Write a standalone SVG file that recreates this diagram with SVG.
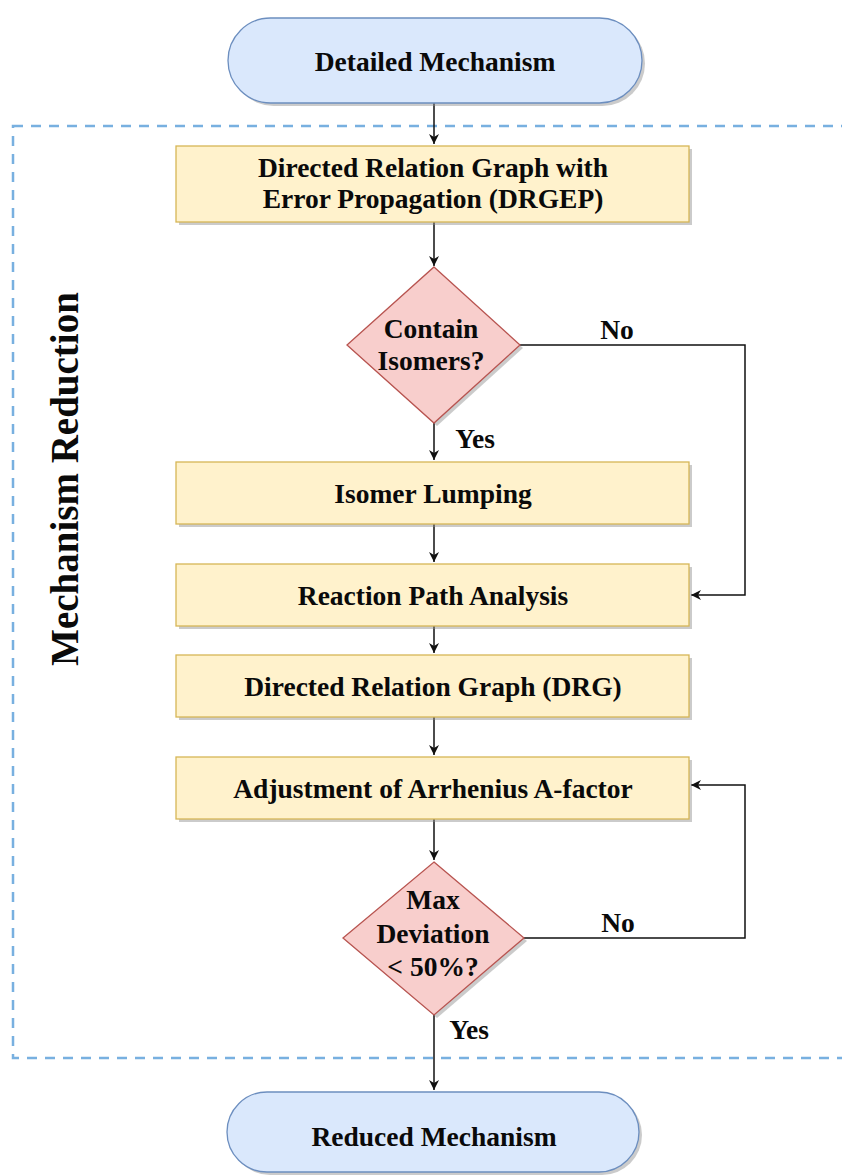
<svg xmlns="http://www.w3.org/2000/svg" width="842" height="1175" viewBox="0 0 842 1175">
  <defs>
    <style>
      .term { fill: #dae8fc; stroke: #6c8ebf; stroke-width: 1.3; }
      .proc { fill: #fff2cc; stroke: #d6b656; stroke-width: 1.3; }
      .dec  { fill: #f8cecc; stroke: #b85450; stroke-width: 1.3; }
      .shadow { fill: #8c8c8c; opacity: 0.45; }
      .lbl { font-family: "Liberation Serif", "Times New Roman", serif; font-weight: bold; font-size: 27.5px; fill: #0a0a0a; text-anchor: middle; }
      .side { font-size: 39px; }
      .edge { fill: none; stroke: #111; stroke-width: 1.5; }
      .group { fill: none; stroke: #78b0e0; stroke-width: 2.5; stroke-dasharray: 10 8; }
    </style>
    <marker id="arrow" viewBox="0 0 12 12" refX="11" refY="6" markerWidth="12" markerHeight="12" markerUnits="userSpaceOnUse" orient="auto">
      <path d="M1,1 L11,6 L1,11 L4,6 Z" fill="#111"/>
    </marker>
  </defs>
  <rect width="842" height="1175" fill="#ffffff"/>

  <!-- dashed container with its rotated caption -->
  <g id="mechanism-reduction">
    <rect class="group" x="13" y="126" width="860" height="932"/>
    <text class="lbl side" transform="translate(78,479) rotate(-90)">Mechanism Reduction</text>
  </g>

  <!-- connectors and branch labels -->
  <g id="connectors">
    <path class="edge" d="M434,103 V144" marker-end="url(#arrow)"/>
    <path class="edge" d="M434,222 V266" marker-end="url(#arrow)"/>
    <path class="edge" d="M434,423 V460" marker-end="url(#arrow)"/>
    <path class="edge" d="M520,345 H745 V595 H691" marker-end="url(#arrow)"/>
    <path class="edge" d="M434,524 V562" marker-end="url(#arrow)"/>
    <path class="edge" d="M434,626 V653" marker-end="url(#arrow)"/>
    <path class="edge" d="M434,717 V755" marker-end="url(#arrow)"/>
    <path class="edge" d="M434,819 V860" marker-end="url(#arrow)"/>
    <path class="edge" d="M524,938 H745 V785 H691" marker-end="url(#arrow)"/>
    <path class="edge" d="M434,1015 V1090" marker-end="url(#arrow)"/>
    <text class="lbl" x="617" y="339">No</text>
    <text class="lbl" x="475" y="448">Yes</text>
    <text class="lbl" x="618" y="932">No</text>
    <text class="lbl" x="469" y="1039">Yes</text>
  </g>

  <g id="detailed-mechanism">
    <rect class="shadow" x="231" y="21" width="414" height="85" rx="42.5"/>
    <rect class="term" x="228" y="18" width="414" height="85" rx="42.5"/>
    <text class="lbl" x="435" y="71">Detailed Mechanism</text>
  </g>

  <g id="drgep">
    <rect class="shadow" x="179" y="149" width="513" height="76"/>
    <rect class="proc" x="176" y="146" width="513" height="76"/>
    <text class="lbl" x="433" y="177">Directed Relation Graph with</text>
    <text class="lbl" x="433" y="208">Error Propagation (DRGEP)</text>
  </g>

  <g id="contain-isomers">
    <path class="shadow" d="M437,270 L523,348 L437,426 L350,348 Z"/>
    <path class="dec" d="M434,267 L520,345 L434,423 L347,345 Z"/>
    <text class="lbl" x="431" y="338">Contain</text>
    <text class="lbl" x="431" y="370">Isomers?</text>
  </g>

  <g id="isomer-lumping">
    <rect class="shadow" x="179" y="465" width="513" height="62"/>
    <rect class="proc" x="176" y="462" width="513" height="62"/>
    <text class="lbl" x="433" y="503">Isomer Lumping</text>
  </g>

  <g id="reaction-path-analysis">
    <rect class="shadow" x="179" y="567" width="513" height="62"/>
    <rect class="proc" x="176" y="564" width="513" height="62"/>
    <text class="lbl" x="433" y="605">Reaction Path Analysis</text>
  </g>

  <g id="drg">
    <rect class="shadow" x="179" y="658" width="513" height="62"/>
    <rect class="proc" x="176" y="655" width="513" height="62"/>
    <text class="lbl" x="433" y="696">Directed Relation Graph (DRG)</text>
  </g>

  <g id="a-factor-adjustment">
    <rect class="shadow" x="179" y="760" width="513" height="62"/>
    <rect class="proc" x="176" y="757" width="513" height="62"/>
    <text class="lbl" x="433" y="798">Adjustment of Arrhenius A-factor</text>
  </g>

  <g id="max-deviation">
    <path class="shadow" d="M437,865 L527,941 L437,1018 L346,941 Z"/>
    <path class="dec" d="M434,862 L524,938 L434,1015 L343,938 Z"/>
    <text class="lbl" x="433" y="909">Max</text>
    <text class="lbl" x="433" y="943">Deviation</text>
    <text class="lbl" x="433" y="976">&lt; 50%?</text>
  </g>

  <g id="reduced-mechanism">
    <rect class="shadow" x="230" y="1095" width="412" height="80" rx="40"/>
    <rect class="term" x="227" y="1092" width="412" height="80" rx="40"/>
    <text class="lbl" x="434" y="1146">Reduced Mechanism</text>
  </g>
</svg>
